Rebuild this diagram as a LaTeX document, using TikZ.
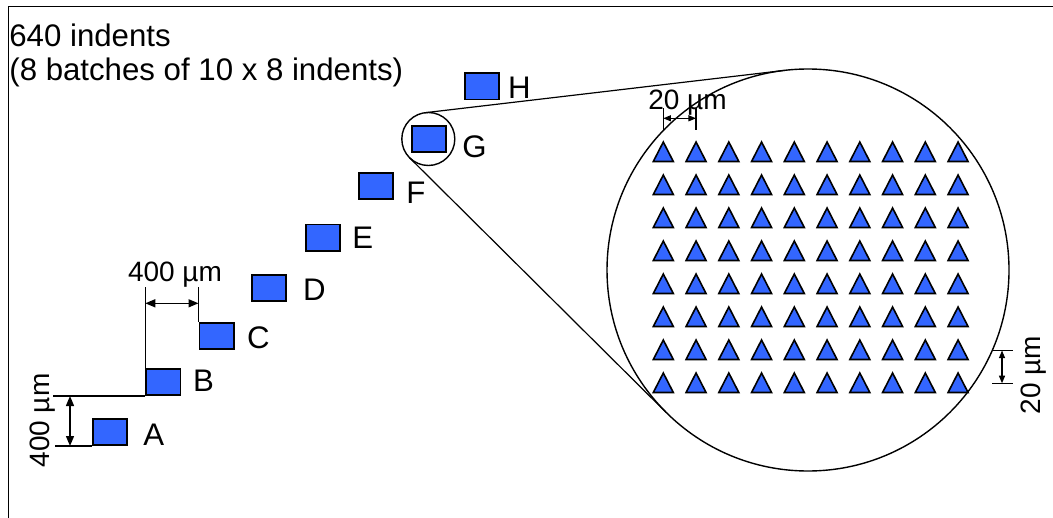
\documentclass[tikz,border=0pt]{standalone}
\usepackage{fontspec}
\setmainfont{Liberation Sans}
\usetikzlibrary{arrows.meta,calc}
\definecolor{indentblue}{RGB}{51,102,255}
\newcommand\bigfont{\fontsize{15.6pt}{18.7pt}\selectfont}
\newcommand\dimfont{\fontsize{14pt}{16.8pt}\selectfont}
\begin{document}
\begin{tikzpicture}[x=0.5pt,y=-0.5pt,
  frame/.style={draw=black, line width=0.7pt},
  batch/.style={rectangle, draw=black, line width=0.9pt, fill=indentblue,
    minimum width=17.1pt, minimum height=13.1pt, inner sep=0pt},
  tag/.style={anchor=west, inner sep=0pt, font=\bigfont},
  title/.style={anchor=base west, inner sep=0pt, font=\bigfont},
  dimtext/.style={anchor=base, inner sep=0pt, font=\dimfont},
  extline/.style={draw=black, line width=0.7pt},
  dimbig/.style={draw=black, line width=0.7pt,
    {Triangle[length=5pt,width=4pt]}-{Triangle[length=5pt,width=4pt]}},
  dimsmall/.style={draw=black, line width=0.6pt,
    {Triangle[length=3.8pt,width=3pt]}-{Triangle[length=3.8pt,width=3pt]}},
  lens/.style={draw=black, line width=0.7pt},
  tri/.style={draw=black, line width=0.8pt, fill=indentblue, line join=miter}
]
\useasboundingbox (0,0) rectangle (1053,518);

% outer frame (top and left edges)
\draw[frame] (8.5,518) -- (8.5,6.7) -- (1053,6.7);

% heading
\node[title] (head1) at (9,46.7) {640 indents};
\node[title] (head2) at (9,80.7) {(8 batches of 10 x 8 indents)};

% the eight batches
\node[batch] (A) at (110,432) {};
\node[batch] (B) at (163.3,382) {};
\node[batch] (C) at (216.5,336) {};
\node[batch] (D) at (269,288) {};
\node[batch] (E) at (322.7,237.5) {};
\node[batch] (F) at (375.8,186) {};
\node[batch] (G) at (428.7,139) {};
\node[batch] (H) at (481.7,86.5) {};

\node[tag] (labA) at (143,434.7) {A};
\node[tag] (labB) at (192.6,381) {B};
\node[tag] (labC) at (246.8,337.5) {C};
\node[tag] (labD) at (302.6,289.5) {D};
\node[tag] (labE) at (351.9,238) {E};
\node[tag] (labF) at (405.9,192.5) {F};
\node[tag] (labG) at (461.9,146.3) {G};
\node[tag] (labH) at (507.6,87.5) {H};

% vertical spacing A -> B
\coordinate (extB) at (53,0);
\coordinate (extA) at (55,0);
\coordinate (vArrow) at (70,0);
\draw[extline] (B.south west -| extB) -- (B.south west);
\draw[extline] (A.south west -| extA) -- (A.south west);
\draw[dimbig] (B.south west -| vArrow) -- (A.south west -| vArrow);
\node[dimtext, rotate=90] (dimAB) at (49.3,420.5) {400 µm};

% horizontal spacing B -> C
\coordinate (extTop) at (0,286.7);
\coordinate (hArrow) at (0,303.3);
\draw[extline] (B.north west) -- (B.north west |- extTop);
\draw[extline] (C.north west) -- (C.north west |- extTop);
\draw[dimbig] (B.north west |- hArrow) -- (C.north west |- hArrow);
\node[dimtext] (dimBC) at (175,281.7) {400 µm};

% magnified view of batch G
\node[circle, lens, minimum size=26.5pt, inner sep=0pt] (lensG) at (428.3,139) {};
\node[circle, lens, minimum size=201pt, inner sep=0pt] (zoomG) at (808,270) {};
\coordinate (tanGtop) at (425.2,112.7);
\coordinate (tanZtop) at (784.5,70.4);
\coordinate (tanGbot) at (409.6,157.8);
\coordinate (tanZbot) at (666.4,412.7);
\draw[lens, line width=0.6pt] (tanGtop) -- (tanZtop);
\draw[lens, line width=0.6pt] (tanGbot) -- (tanZbot);

% 10 x 8 indents
\coordinate (grid0) at (663.3,161.5);
\foreach \i in {0,...,9}
  \foreach \j in {0,...,7}
    \draw[tri] ($(grid0)+(\i*32.75,\j*33)$) ++(-10,0) -- ++(20,0) -- ++(-10,-19.5) -- cycle;

% column pitch
\coordinate (col0) at (663.3,0);
\coordinate (col1) at (696.05,0);
\coordinate (tickTop) at (0,108.3);
\coordinate (tickBot) at (0,130);
\coordinate (colArrow) at (0,118.3);
\draw[extline, line width=0.6pt] (col0 |- tickTop) -- (col0 |- tickBot);
\draw[extline, line width=0.6pt] (col1 |- tickTop) -- (col1 |- tickBot);
\draw[dimsmall] (col0 |- colArrow) -- (col1 |- colArrow);
\node[dimtext] (dimCol) at (687.5,110) {20 µm};

% row pitch
\coordinate (row6) at (0,350.5);
\coordinate (row7) at (0,383.3);
\coordinate (tickL) at (992,0);
\coordinate (tickR) at (1013,0);
\coordinate (rowArrow) at (1002,0);
\draw[extline, line width=0.6pt] (row6 -| tickL) -- (row6 -| tickR);
\draw[extline, line width=0.6pt] (row7 -| tickL) -- (row7 -| tickR);
\draw[dimsmall] (row6 -| rowArrow) -- (row7 -| rowArrow);
\node[dimtext, rotate=90] (dimRow) at (1040,375) {20 µm};
\end{tikzpicture}
\end{document}
